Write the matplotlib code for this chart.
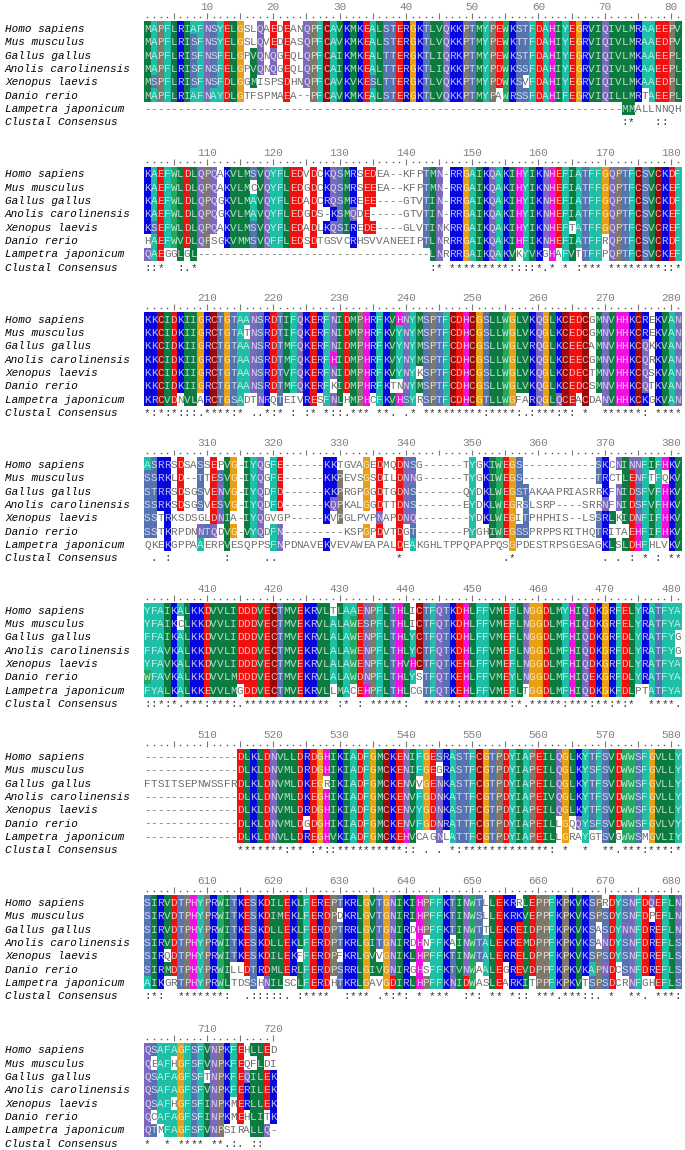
import matplotlib
matplotlib.use('Agg')
import matplotlib.pyplot as plt
from matplotlib.colors import to_rgb
import numpy as np

# uppercase = shaded residue, lowercase = left on white
names = ['Homo sapiens', 'Mus musculus', 'Gallus gallus', 'Anolis carolinensis',
         'Xenopus laevis', 'Danio rerio', 'Lampetra japonicum', 'Clustal Consensus']

starts = [1, 101, 201, 301, 401, 501, 601, 701]

block1 = [
    "MAPFLRIAFN SYELGslQaE dEanQPFCAV KMKEALSTER GKTLVQKKPT MYPEWKSTFD AHIYEGRVIQ IVLMRAAEEP V",
    "MAPFLRISFN SYELGslQvE dEasQPFCAV KMKEALSTER GKTLVQKKPT MYPEWKTTFD AHIYEGRVIQ IVLMRAAEDP V",
    "MAPFLRISFN SFELGpVQnQ gEqlQPFCAI KMKEALTTER GKTLIQRKPT MYPEWKSTFD AHIYEGRVIQ IVLMKAAEEP L",
    "MAPFLRISFN SFELGpVQnQ gEqlQPFCAI KMKEALTTER GKTLIQKKPT MYPDWKSSFD AHIYEGRVIQ IVLMKAAEEP L",
    "MSPFLRISFN SFDLGgMisp sDhnQPFCAV KVKESLTTER GKTLVQKKPT MYPDWKSvFD AHIYEGRVIQ IVLMKAAEDP L",
    "MAPFLRIAFN AYDLGtfspm aEa--PFCAV KMKEALSTER GKTLVQKKPT MYPaWRSSFD AHIFEGRVIQ ILLMRtAEEP L",
    "---------- ---------- ---------- ---------- ---------- ---------- ---------- --MMallnnq h",
]
cons1 = "          |          |          |          |          |          |          |  :*   :: | "

block2 = [
    "KAEFWLDLQP QaKVLMSVQY FLEDvDcKQS MRsEDea--k fpTMN-RRGA IKQAKIHYIK NHEFIATFFG QPTFCSVCKD F",
    "KAEFWLDLQP QaKVLMcVQY FLEDgDcKQS MRsEEea--k fpTMN-RRGA IKQAKIHYIK NHEFIATFFG QPTFCSVCKE F",
    "KAEFWLDLQP QgKVLMAVQY FLEDaDcRQS MReEE----g tvTIN-RRGA IKQAKIHYIK NHEFIATFFG QPTFCSVCKD F",
    "KAEFWLDLQP QgKVLMAVQY FLEDgDs-KS MQdE-----g tvTIN-RRGA IKQAKIHYIK NHEFIATFFG QPTFCSVCKE F",
    "KSEFWLDLQP QaKVLMSVQY FLEDaDlKQS IReDE----g lvTINkRRGA IKQAKIHYIK NHEFtATFFG QPTFCSVCRE F",
    "hAEFWVDLQP sgKVMMSVQF FLEDsDtgsv cRhsvvanee ipTLNrRRGA IKQAKIHFIK NHEFIATFFr QPTFCSVCRD F",
    "QAEggLgL-- ---------- ---------- ---------- ---LNrRRGA IKQAKVkYVK gHaFVtTFFp QPTFCSVCKE F",
]
cons2 = "::*  :.*  |          |          |          |   :* ****|*****::::*|.* * :*** |********::|*"

block3 = [
    "KKCIDKIIGR CTGTAANSRD TIFQKERFNI DMPHRFKVHN YMSPTFCDHC GSLLWGLVKQ GLKCEDCgMN VHHKCReKVA N",
    "KKCIDKIIGR CTGTAtNSRD TIFQKERFNI DMPHRFKVYN YMSPTFCDHC GSLLWGLVKQ GLKCEDCgMN VHHKCReKVA N",
    "KKCIDKIIGR CTGTAANSRD TMFQKERFNI DMPHRFKVYN YMSPTFCDHC GSLLWGLVRQ GLKCEECaMN VHHKCQkKVA N",
    "KKCIDKIIGR CTGTAANSRD TMFQKERFHI DMPHRFKVYN YMSPTFCDHC GSLLWGLVKQ GLKCEECgMN VHHKCQrKVA N",
    "KKCIDKIIGR CTGTAANSRD TVFQKERFNI DMPHRFKVYN YkSPTFCDHC GSLLWGLVKQ GLKCDECtMN VHHKCQsKVA N",
    "KKCIDKIIGR CTGTAANSRD TMFQKERFkI DMPHRFKtnN YMSPTFCDHC GSLLWGLVKQ GLKCEDCsMN VHHKCQtKVA N",
    "KRCVDnVLaR CTGSAdtNRq TeivREsFNL hMPHcFKVHS YrSPTFCDHC GTLLWGfaRQ GLQCEaCdaN VHHKCKgKVA N",
]
cons3 = "*:*:*:::.*|***:* ..*:|* : :* *::|.*** **. .|* ********|*:****:.:*|**:*: *  *|*****: ***|*"

block4 = [
    "ASRRsDsaSs EpVG-IYQgF E------KKt gvaGeDmqDN Sg------tY gKIWEGS--- --------SK cNINNFIFHK V",
    "SSRKlD--Tt ESVG-IYQgF E------KKP evsGsDilDN Ng------tY gKIWEGS--- --------TR ctLENFtFqK V",
    "STRRsDsgSv ENVG-IYQdF D------KKP rgpGgDtgDN S-------qY dKLWEGSTak aapriasrrK fNIDSFVFHK V",
    "SSRKsDsgSv ESVG-IYQdF D------KQP kalGgDttDN S-------eY dKLWEGrSls rp----srrN fNIDSFVFHK V",
    "SStRksdsgl DNIa-IYQgv gp-----KvP glpvpNapDN Q--------Y dKLWEGiTph phis--lsSR LkIDNFIFHK V",
    "SStKrpdnNT QdVG-VYQdF N--------- kspGpDvtDg T-------pY ghIWEGSSpr ppsrithqTR itaEHFIFHK V",
    "qkeKgppaAe rpVesqppsF NpdnaveKve vaweapalDe Akghltppqp appqsGpdes trpsgesagK LsLDHFhlvK V",
]
cons4 = " . :      |  :     ..|          |        * |          |    .*    |         .| . : * : *|*"

block5 = [
    "YFAIKALKKD VVLIDDDVEC TMVEKRVLtL AAENPFLTHL iCTFQTKDHL FFVMEFLNGG DLMYHIQDKG RFELYRATFY A",
    "YFAIKcLKKD VVLIDDDVEC TMVEKRVLAL AWESPFLTHL iCTFQTKDHL FFVMEFLNGG DLMFHIQDKG RFELYRATFY A",
    "FFAIKALKKD VVLIDDDVEC TMVEKRVLAL AWENPFLTHL YCTFQTKDHL FFVMEFLNGG DLMFHIQDKG RFDLYRATFY g",
    "FFAVKALKKD VVLIDDDVEC TMVEKRVLAL AWENPFLTHL YCTFQTKDHL FFVMEFLNGG DLMFHIQDKG RFDLYRATFY g",
    "YFAVKALKKD VVLIDDDVEC TMVEKRVLAL AWENPFLTHV HCTFQTKEHL FFVMEFLNGG DLMFHIQDKG RFDLYRATFY A",
    "WFAVKALKKD VVLMDDDVEC TMVEKRVLAL AWDNPFLTHL YsTFQTKEHL FFVMEYLNGG DLMFHIQEKG RFDLYRATFY A",
    "FYALKALKKE VVLMgDDVEC TMVEKRVLlM AcEHPFLTHL cgTFQTKEHL FFVMEFLtGG DLMFHIQDKG KFDLptATFY A",
]
cons5 = "::*:*.***:|***:.*****|******** :|* : *****:|  *****:**|*****:*.**|***:***:**|:*:*  ****|."

block6 = [
    "---------- ----DLKLDN VLLDRDGHIK IADFGMCKEN IFGESRASTF CGTPDYIAPE ILQGLKYTFS VDWWSFGVLL Y",
    "---------- ----DLKLDN VMLDRDGHIK IADFGMCKEN IFGEgRASTF CGTPDYIAPE ILQGLKYSFS VDWWSFGVLL Y",
    "ftsitsepnw ssfrDLKLDN VMLDKEGrIK IADFGMCKEN VvGENKASTF CGTPDYIAPE ILQGLKYTFS VDWWSFGVLL Y",
    "---------- ----DLKLDN VMLDKEGHIK IADFGMCKEN VFGDNKATTF CGTPDYIAPE IVQGLKYTFS VDWWSFGVLL Y",
    "---------- ----DLKLDN VMLDRDGHIK IADFGMCKEN VYGDNKASTF CGTPDYIAPE ILQGLKYTFS VDWWSFGVLL Y",
    "---------- ----DLKLDN VMLDgDGHIK IADFGMCKEN VFGDNRATTF CGTPDYIAPE ILlGqQYSFS VDWWSFGVLV Y",
    "---------- ----DLKLDN VLLDREGHVK IADFGMCKEH VcagNlATTF CGTPDYIAPE ILlGraYgtS VgWWSmGVLI Y",
]
cons6 = "          |    ******|*:** :*::*|*********:|: . . *:**|**********|*: *  *  *|*.***:***:|*"

block7 = [
    "SIRVDTPHYP RWITKESKDI LEKLFEREPT KRLGVTGNIK IHPFFKTINW TlLEKRrLEP PFKPKVKSPr DYSNFDQEFL N",
    "SIRVDTPHYP RWITKESKDI MEKLFERDPd KRLGVTGNIR IHPFFKTINW SlLEKRKVEP PFKPKVKSPS DYSNFDpEFL N",
    "SIRVDTPHYP RWITKESKDL LEKLFERDPT RRLGVTGNIR dHPFFKTINW TtLEKREIDP PFKPKVKSaS DYNNFDREFL N",
    "SIRVDTPHYP RWITKESKDL LEKLFERDPT KRLGITGNIR dHnFFKaINW TALEKREMDP PFKPKVKSaN DYSNFDREFL S",
    "SIRqDTPHYP RWITKESKDI LEKfFERDPf KRLGVvGNIK LHPFFKTINW TALERRELDP PFKPKVKSPS DYSNFDREFL S",
    "SIRMDTPHYP RWIllDTRDM LERLFERDPS RRLGIVGNIR gHsFFKTVNW aALEgREVDP PFKPKVKAPN DcSNFDREFL S",
    "AIKgrTPHYP RWLtdsShNI LscLFERDhT KRLGavGDIR LHPFFKNIDW asLEaRKItP PFKPKVtSPS DcrNFghEFL S",
]
cons7 = ":*:  *****|**:  .::::|:. :****  |:*** .*:*:| * ***  :*|: ** *:: *|**.***::. |*  **. ***|:"

block8 = [
    "QSAFAGFSFV NPKFEhLLEd",
    "QeAFhGFSFV NPKFEqfLdi",
    "QSAFAGFSFt NPKFEQILEK",
    "QSAFAGFSFV NPKFERILEK",
    "QSAFhGFSFI NPKmERLLEK",
    "QcAFAGFSFI NPKmEhLItK",
    "QTmFAGFSFV NPsiraLLQ-",
]
cons8 = "*  * **** |**.:. ::  "

blocks = [block1, block2, block3, block4, block5, block6, block7, block8]
conses = [cons1, cons2, cons3, cons4, cons5, cons6, cons7, cons8]

green = '#0b7b40'
teal = '#1dbfa6'
slate = '#5573b1'
purple = '#7c69bf'
red = '#f2100f'
blue = '#0606de'
colors = {'L': green, 'I': green, 'V': green, 'M': green,
          'A': teal, 'F': teal, 'Y': teal, 'W': '#23a860',
          'S': slate, 'T': slate, 'N': purple, 'Q': purple,
          'P': '#80786a', 'G': '#e8a012', 'D': red, 'E': red,
          'K': blue, 'R': blue, 'H': '#f010e0', 'C': '#a00808'}

x0 = 144.0
cw = 6.63
rh = 13.33
tops = [21.7, 167.2, 312.6, 458.0, 603.6, 749.8, 895.8, 1043.3]

fig = plt.figure(figsize=(6.85, 11.5), dpi=100)
ax = fig.add_axes([0, 0, 1, 1])
mono = 'Liberation Mono'
fs = 7.96

for b in range(len(blocks)):
    rows = [r.replace(' ', '') for r in blocks[b]]
    cons = conses[b].replace('|', '')
    ncol = len(rows[0])
    top = tops[b]

    # shaded cells
    img = np.ones((len(rows), ncol, 3))
    for i in range(len(rows)):
        for j in range(ncol):
            c = rows[i][j]
            if c in colors:
                img[i, j] = to_rgb(colors[c])
    ax.imshow(img, extent=[x0, x0 + ncol * cw, top + len(rows) * rh, top],
              aspect='auto', interpolation='nearest', zorder=1)

    # letters
    for i in range(len(rows)):
        y = top + (i + 0.5) * rh + 3.5
        for j in range(ncol):
            c = rows[i][j]
            xc = x0 + (j + 0.5) * cw
            if c in colors:
                ax.text(xc, y, c, color='white', alpha=0.72, fontsize=fs, family=mono,
                        ha='center', va='baseline', zorder=2)
            else:
                ax.text(xc, y, c.upper(), color='#6e6e6e', fontsize=fs, family=mono,
                        ha='center', va='baseline', zorder=2)
        ax.text(5, y, names[i], color='black', fontsize=fs, family=mono, style='italic',
                ha='left', va='baseline', zorder=2)

    # consensus line
    y = top + 7.5 * rh + 3.5
    ax.text(5, y, names[7], color='black', fontsize=fs, family=mono, style='italic',
            ha='left', va='baseline', zorder=2)
    for j in range(ncol):
        if cons[j] != ' ':
            ax.text(x0 + (j + 0.5) * cw, y, cons[j], color='#333333', fontsize=fs, family=mono,
                    ha='center', va='baseline', zorder=2)

    # ruler
    dots = []
    for j in range(ncol):
        pos = starts[b] + j
        xc = x0 + (j + 0.5) * cw
        if pos % 5 == 0:
            ax.vlines(xc, top - 8.4, top - 2.6, color='#777777', linewidth=0.8, zorder=2)
        else:
            dots.append(xc)
        if pos % 10 == 0:
            ax.text(xc, top - 11.5, str(pos), color='#808080', fontsize=fs, family=mono,
                    ha='center', va='baseline', zorder=2)
    ax.plot(dots, [top - 4.8] * len(dots), ls='none', marker='s', ms=1.0, mew=0,
            color='#555555', zorder=2)

ax.set_xlim(0, 685)
ax.set_ylim(1150, 0)
ax.axis('off')
fig.savefig('out.png', dpi=100)
